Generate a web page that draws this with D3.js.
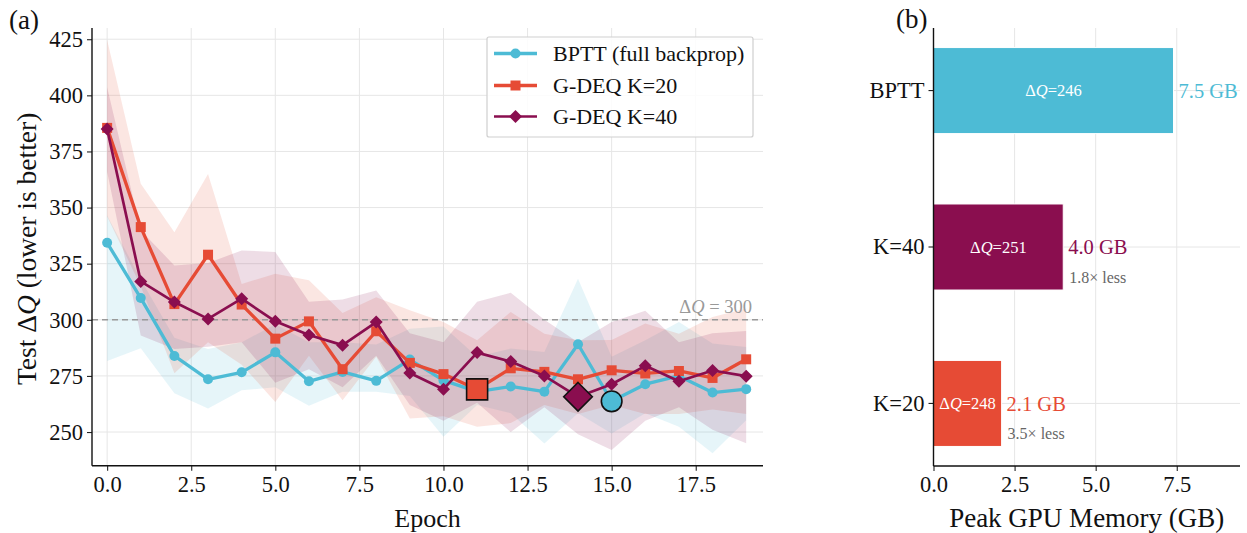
<!DOCTYPE html>
<html><head><meta charset="utf-8">
<script src="https://cdn.jsdelivr.net/npm/d3@7"></script>
<style>
body{margin:0;background:#fff}
svg{display:block}
text{font-family:"Liberation Serif","Times New Roman",serif;fill:#111}
</style>
</head><body>
<svg id="c" width="1247" height="533"></svg>
<script>
// ---------------- data ----------------
const epochs = [0,1,2,3,4,5,6,7,8,9,10,11,12,13,14,15,16,17,18,19];

const bpttMean = [334.3,309.7,283.9,273.5,276.6,285.5,272.6,276.8,272.8,282.3,273.0,268.0,270.3,268.0,289.1,263.7,271.3,275.0,267.6,269.1];
const bpttHi   = [346.5,318.0,292.0,287.0,290.0,298.0,290.0,290.0,289.0,296.0,297.0,283.5,287.2,285.7,318.3,283.5,290.9,299.0,289.4,287.9];
const bpttLo   = [281.7,287.3,267.3,260.5,268.6,270.0,261.7,267.9,267.9,266.0,247.9,262.0,258.4,244.9,258.4,249.4,258.4,252.3,240.5,255.3];

const k20Mean = [385.5,341.3,307.0,329.0,306.8,291.6,299.3,278.0,294.9,280.8,275.8,269.0,278.4,276.8,273.5,277.5,276.1,277.2,274.1,282.4];
const k20Hi   = [424.6,360.6,339.0,365.0,316.0,320.5,317.6,303.0,310.0,304.2,299.0,290.9,303.5,293.8,290.9,291.0,298.3,293.8,301.2,305.0];
const k20Lo   = [346.0,315.0,276.2,290.0,280.0,263.4,284.0,264.2,283.5,256.0,257.0,252.3,254.0,262.0,258.0,262.0,258.0,258.0,260.0,258.0];

const k40Mean = [385.0,317.1,307.9,300.4,309.4,299.3,293.2,288.7,299.0,276.3,269.1,285.4,281.4,275.0,265.7,271.3,279.5,272.6,277.4,274.9];
const k40Hi   = [403.6,339.8,324.2,325.3,330.9,330.2,308.0,309.0,313.0,294.0,290.0,308.0,312.0,300.0,290.0,299.0,304.0,290.0,294.0,295.0];
const k40Lo   = [366.0,293.0,287.0,288.0,290.0,272.0,278.0,270.0,284.0,262.0,255.0,263.0,250.0,261.0,249.0,242.0,255.0,261.0,251.0,245.0];

const seriesNames  = ["BPTT (full backprop)","G-DEQ K=20","G-DEQ K=40"];
const seriesColors = ["#4DBBD5","#E64B35","#8A0E4F"];

const yTicks = [250,275,300,325,350,375,400,425];
const xTicks = [0,2.5,5,7.5,10,12.5,15,17.5];
const refLine = 300;

const memCategories = ["K=20","K=40","BPTT"];
const memValues     = [2.1,4.0,7.4];
const memLabels     = ["2.1 GB","4.0 GB","7.5 GB"];
const memDQ         = [248,251,246];
const memRatio      = ["3.5× less","1.8× less",""];
const memColors     = ["#E64B35","#8A0E4F","#4DBBD5"];
const memTicks      = [0,2.5,5,7.5];

// ---------------- setup ----------------
const svg = d3.select("#c");
const fmt1 = d3.format(".1f");
const TICK_FS = 22.5;

// ================= Panel (a) =================
const L = {left:92,right:763,top:28,bottom:465.7};
const x = d3.scaleLinear().domain([-0.45,19.5]).range([L.left,L.right]);
const y = d3.scaleLinear().domain([235,430]).range([L.bottom,L.top]);

const gA = svg.append("g");
// grid
gA.append("g").selectAll("line").data(yTicks).join("line")
  .attr("x1",L.left).attr("x2",L.right).attr("y1",d=>y(d)).attr("y2",d=>y(d))
  .attr("stroke","#e6e6e6").attr("stroke-width",1);
gA.append("g").selectAll("line").data(xTicks).join("line")
  .attr("y1",L.top).attr("y2",L.bottom).attr("x1",d=>x(d)).attr("x2",d=>x(d))
  .attr("stroke","#e6e6e6").attr("stroke-width",1);

const series = [
  {mean:bpttMean,hi:bpttHi,lo:bpttLo,color:seriesColors[0],shape:"circle",lw:3.3},
  {mean:k20Mean,hi:k20Hi,lo:k20Lo,color:seriesColors[1],shape:"square",lw:3.3},
  {mean:k40Mean,hi:k40Hi,lo:k40Lo,color:seriesColors[2],shape:"diamond",lw:2.7}
];

// bands
const area = d3.area().x((d,i)=>x(epochs[i])).y0(d=>y(d[0])).y1(d=>y(d[1]));
series.forEach(s=>{
  gA.append("path").datum(s.lo.map((v,i)=>[v,s.hi[i]]))
    .attr("d",area).attr("fill",s.color).attr("fill-opacity",0.14).attr("stroke","none");
});

// reference line
gA.append("line").attr("x1",L.left).attr("x2",L.right)
  .attr("y1",y(refLine)).attr("y2",y(refLine))
  .attr("stroke","#9a9a9a").attr("stroke-width",1.5).attr("stroke-dasharray","6,4");
const refT = gA.append("text").attr("x",752).attr("y",y(refLine)-7)
  .attr("text-anchor","end").attr("font-size",18.5).style("fill","#999");
refT.append("tspan").text("Δ");
refT.append("tspan").attr("font-style","italic").text("Q");
refT.append("tspan").text(" = "+refLine);

function markerPath(shape,r){
  if(shape==="circle"){const p=d3.path();p.arc(0,0,r,0,2*Math.PI);return p.toString();}
  if(shape==="square") return `M${-r},${-r}H${r}V${r}H${-r}Z`;
  return `M0,${-r}L${r},0L0,${r}L${-r},0Z`;
}
const smallR = {circle:5,square:5,diamond:6.5};

// lines + markers
const line = d3.line().x((d,i)=>x(epochs[i])).y(d=>y(d));
series.forEach(s=>{
  gA.append("path").datum(s.mean).attr("d",line).attr("fill","none")
    .attr("stroke",s.color).attr("stroke-width",s.lw).attr("stroke-linejoin","round");
  gA.append("g").selectAll("path").data(s.mean).join("path")
    .attr("transform",(d,i)=>`translate(${x(epochs[i])},${y(d)})`)
    .attr("d",markerPath(s.shape,smallR[s.shape])).attr("fill",s.color);
});
// best markers
const bigR = {circle:10.3,square:10.5,diamond:14.3};
series.forEach(s=>{
  const bi = d3.minIndex(s.mean);
  gA.append("path").attr("transform",`translate(${x(epochs[bi])},${y(s.mean[bi])})`)
    .attr("d",markerPath(s.shape,bigR[s.shape])).attr("fill",s.color)
    .attr("stroke","#111").attr("stroke-width",1.6);
});

// axes
const axL = d3.axisLeft(y).tickValues(yTicks).tickSize(5).tickPadding(4).tickFormat(d3.format("d"));
const axB = d3.axisBottom(x).tickValues(xTicks).tickSize(5).tickPadding(5).tickFormat(fmt1);
const gyA = gA.append("g").attr("transform",`translate(${L.left},0)`).call(axL);
const gxA = gA.append("g").attr("transform",`translate(0,${L.bottom})`).call(axB);
[gyA,gxA].forEach(g=>{
  g.select(".domain").remove();
  g.selectAll(".tick line").attr("stroke","#222").attr("stroke-width",1.1);
  g.selectAll(".tick text").attr("font-size",TICK_FS).style("fill","#111");
});
gA.append("line").attr("x1",L.left).attr("x2",L.left).attr("y1",L.top).attr("y2",L.bottom).attr("stroke","#111").attr("stroke-width",1.4);
gA.append("line").attr("x1",L.left).attr("x2",L.right).attr("y1",L.bottom).attr("y2",L.bottom).attr("stroke","#111").attr("stroke-width",1.4);

// labels
gA.append("text").attr("x",(L.left+L.right)/2).attr("y",527).attr("text-anchor","middle").attr("font-size",26).text("Epoch");
const yl = gA.append("text").attr("transform",`translate(36,${(L.top+L.bottom)/2+2}) rotate(-90)`)
  .attr("text-anchor","middle").attr("font-size",27.5);
yl.append("tspan").text("Test Δ");
yl.append("tspan").attr("font-style","italic").text("Q");
yl.append("tspan").text(" (lower is better)");
svg.append("text").attr("x",9).attr("y",29).attr("font-size",27).text("(a)");

// legend
const lg = gA.append("g");
lg.append("rect").attr("x",487).attr("y",37).attr("width",266).attr("height",100).attr("rx",2)
  .attr("fill","#fff").attr("fill-opacity",0.85).attr("stroke","#cfcfcf").attr("stroke-width",1.2);
const legY = [53.5,85.5,116.5];
series.forEach((s,i)=>{
  lg.append("line").attr("x1",494).attr("x2",537).attr("y1",legY[i]).attr("y2",legY[i])
    .attr("stroke",s.color).attr("stroke-width",s.lw);
  lg.append("path").attr("transform",`translate(515.5,${legY[i]})`).attr("d",markerPath(s.shape,smallR[s.shape])).attr("fill",s.color);
  lg.append("text").attr("x",553).attr("y",legY[i]).attr("dy","0.35em").attr("font-size",22).text(seriesNames[i]);
});

// ================= Panel (b) =================
const R = {left:933.5,right:1240,top:28,bottom:466};
const xm = d3.scaleLinear().domain([0,9.45]).range([R.left,R.right]);
const ym = d3.scaleBand().domain(memCategories).range([R.bottom,R.top]).paddingInner(0.45).paddingOuter(0.125);
const gB = svg.append("g");
gB.append("g").selectAll("line").data(memTicks).join("line")
  .attr("x1",d=>xm(d)).attr("x2",d=>xm(d)).attr("y1",R.top).attr("y2",R.bottom)
  .attr("stroke","#e6e6e6");
gB.append("g").selectAll("line").data(memCategories).join("line")
  .attr("x1",R.left).attr("x2",R.right).attr("y1",d=>ym(d)+ym.bandwidth()/2).attr("y2",d=>ym(d)+ym.bandwidth()/2)
  .attr("stroke","#e6e6e6");

gB.append("g").selectAll("rect").data(memValues).join("rect")
  .attr("x",xm(0)).attr("y",(d,i)=>ym(memCategories[i]))
  .attr("width",d=>xm(d)-xm(0)).attr("height",ym.bandwidth())
  .attr("fill",(d,i)=>memColors[i]).attr("stroke","#fff").attr("stroke-width",1);

memValues.forEach((v,i)=>{
  const cy = ym(memCategories[i])+ym.bandwidth()/2;
  const t = gB.append("text").attr("x",(xm(0)+xm(v))/2).attr("y",cy).attr("dy","0.35em")
    .attr("text-anchor","middle").attr("font-size",16.5).style("fill","#fff");
  t.append("tspan").text("Δ");
  t.append("tspan").attr("font-style","italic").text("Q");
  t.append("tspan").text("="+memDQ[i]);
  gB.append("text").attr("x",xm(v)+5).attr("y",cy).attr("dy","0.35em")
    .attr("font-size",20.5).style("fill",memColors[i]).text(memLabels[i]);
  if(memRatio[i]){
    gB.append("text").attr("x",xm(v)+6).attr("y",cy+30).attr("dy","0.35em")
      .attr("font-size",16).style("fill","#666").text(memRatio[i]);
  }
});

const axLm = d3.axisLeft(ym).tickSize(5).tickPadding(4);
const axBm = d3.axisBottom(xm).tickValues(memTicks).tickSize(5).tickPadding(5).tickFormat(fmt1);
const gyB = gB.append("g").attr("transform",`translate(${R.left},0)`).call(axLm);
const gxB = gB.append("g").attr("transform",`translate(0,${R.bottom})`).call(axBm);
[gyB,gxB].forEach(g=>{
  g.select(".domain").remove();
  g.selectAll(".tick line").attr("stroke","#222").attr("stroke-width",1.1);
  g.selectAll(".tick text").attr("font-size",TICK_FS).style("fill","#111");
});
gB.append("line").attr("x1",R.left).attr("x2",R.left).attr("y1",R.top).attr("y2",R.bottom).attr("stroke","#111").attr("stroke-width",1.4);
gB.append("line").attr("x1",R.left).attr("x2",R.right).attr("y1",R.bottom).attr("y2",R.bottom).attr("stroke","#111").attr("stroke-width",1.4);
gB.append("text").attr("x",(R.left+R.right)/2).attr("y",527).attr("text-anchor","middle").attr("font-size",27).text("Peak GPU Memory (GB)");
svg.append("text").attr("x",896).attr("y",28).attr("font-size",27).text("(b)");
</script>
</body></html>
